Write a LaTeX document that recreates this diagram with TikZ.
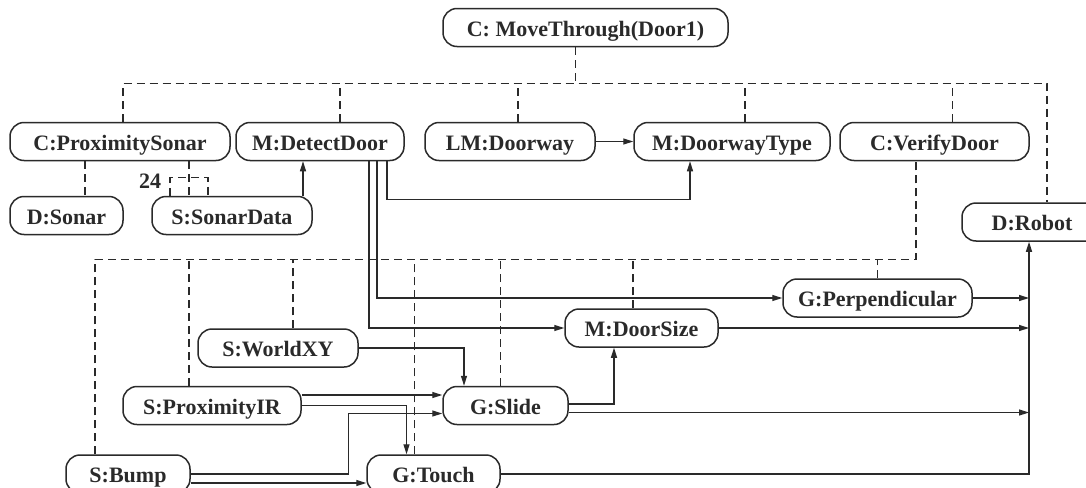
\documentclass[tikz,border=0pt]{standalone}
\usepackage{fontspec}
\setmainfont{Liberation Serif}
\usetikzlibrary{arrows.meta}
\definecolor{inkgray}{HTML}{2a2a2a}
\tikzset{
    unit/.style={
        rectangle, rounded corners=7pt,
        draw=inkgray, fill=white, line width=0.75pt,
        minimum height=19pt, inner sep=0pt,
        text height=8.5pt, text depth=-0.3pt,
        text=inkgray, font=\fontsize{11}{13}\selectfont\bfseries
    },
    bus/.style={
        draw=inkgray, line width=0.7pt, dash pattern=on 4pt off 2.5pt
    },
    arr/.style={
        -{Triangle[length=5pt,width=3pt]}, line width=0.7pt, color=inkgray
    },
    count label/.style={
        text=inkgray, font=\fontsize{11}{13}\selectfont\bfseries, inner sep=0pt
    }
}

\begin{document}
\begin{tikzpicture}[x=0.5pt, y=-0.5pt]

    \useasboundingbox (0,0) rectangle (1086,487);
    \clip (0,0) rectangle (1086,487);
    \fill[white] (0,0) rectangle (1086,487);

    % Nodes
    \node[unit, minimum width=142.5pt] (movethrough) at (585.5,27.5) {C: MoveThrough(Door1)};
    \node[unit, minimum width=110pt] (proxsonar) at (120,141.5) {C:ProximitySonar};
    \node[unit, minimum width=84pt] (detectdoor) at (320,141.5) {M:DetectDoor};
    \node[unit, minimum width=85pt] (doorway) at (510,141.5) {LM:Doorway};
    \node[unit, minimum width=98pt] (doorwaytype) at (732,141.5) {M:DoorwayType};
    \node[unit, minimum width=94.5pt] (verifydoor) at (934.5,141.5) {C:VerifyDoor};
    \node[unit, minimum width=70pt] (robot) at (1032,222) {D:Robot};
    \node[unit, minimum width=56.5pt] (sonar) at (66.5,215.5) {D:Sonar};
    \node[unit, minimum width=80pt] (sonardata) at (232,215.5) {S:SonarData};
    \node[unit, minimum width=94.5pt] (perpendicular) at (877.5,298) {G:Perpendicular};
    \node[unit, minimum width=76.5pt] (doorsize) at (641.5,328) {M:DoorSize};
    \node[unit, minimum width=80pt] (worldxy) at (278,348) {S:WorldXY};
    \node[unit, minimum width=89pt] (proxir) at (212,405.5) {S:ProximityIR};
    \node[unit, minimum width=62.5pt] (slide) at (505.5,405.5) {G:Slide};
    \node[unit, minimum width=62pt] (bump) at (128,474) {S:Bump};
    \node[unit, minimum width=66.5pt] (touch) at (433.5,474) {G:Touch};
    \node[count label] (count) at (150,181) {24};

    % Upper dashed tree
    \draw[bus] ([xshift=1.5pt]proxsonar.north) -- ++(0,-38.5) -| ([xshift=7.5pt]robot.north);
    \draw[bus] ([xshift=-5pt]movethrough.south) -- ++(0,37.5);
    \draw[bus] ([xshift=10pt]detectdoor.north) -- ++(0,-38.5);
    \draw[bus] ([xshift=4pt]doorway.north) -- ++(0,-38.5);
    \draw[bus] ([xshift=6.5pt]doorwaytype.north) -- ++(0,-38.5);
    \draw[bus] ([xshift=9pt]verifydoor.north) -- ++(0,-38.5);

    % Sonar dashed links
    \draw[bus] ([xshift=-17.5pt]proxsonar.south) -- ++(0,36);
    \draw[bus] ([xshift=34.5pt]proxsonar.south) -- ++(0,36);
    \draw[bus] ([xshift=-31pt]sonardata.north) -- ++(0,-18) -- ++(38,0) -- ++(0,18);

    % Lower dashed tree
    \draw[bus] ([xshift=-16.5pt]bump.north) -- ++(0,-195) -| ([xshift=-9.25pt]verifydoor.south);
    \draw[bus] ([xshift=-11.5pt]proxir.north) -- ++(0,-126.5);
    \draw[bus] ([xshift=7.5pt]worldxy.north) -- ++(0,-69);
    \draw[bus] ([xshift=-9.5pt]touch.north) -- ++(0,-195);
    \draw[bus] ([xshift=-2.5pt]slide.north) -- ++(0,-126.5);
    \draw[bus] ([xshift=-4.25pt]doorsize.north) -- ++(0,-49);
    \draw[bus] (perpendicular.north) -- ++(0,-19);

    % Data flow
    \coordinate (rail) at ([xshift=-1.5pt]robot.south);
    \coordinate (slidelow) at ([yshift=-3.5pt]slide.east);
    \draw[arr] ([xshift=35.5pt]sonardata.north) -- ([xshift=-8.5pt]detectdoor.south);
    \draw[arr] ([xshift=33.5pt]detectdoor.south) -- ++(0,38) -| ([xshift=-21pt]doorwaytype.south);
    \draw[arr] ([xshift=28.5pt]detectdoor.south) |- (perpendicular.west);
    \draw[arr] ([xshift=24.5pt]detectdoor.south) |- (doorsize.west);
    \draw[arr] (doorway) -- (doorwaytype);
    \draw[arr] (worldxy.east) -| ([xshift=-20.75pt]slide.north);
    \draw[arr] ([yshift=5.25pt]proxir.east) -- ([yshift=5.25pt]slide.west);
    \draw[arr] (proxir.east) -| ([xshift=-13.5pt]touch.north);
    \draw[arr] (bump.east) -- ++(158,0) |- ([yshift=-4pt]slide.west);
    \draw[arr] ([yshift=-4.5pt]bump.east) -- ([yshift=-4.5pt]touch.west);
    \draw[arr] ([yshift=0.75pt]slide.east) -| ([xshift=-13.75pt]doorsize.south);
    \draw[arr] (slidelow) -- (slidelow -| rail);
    \draw[arr] (perpendicular.east) -- (perpendicular.east -| rail);
    \draw[arr] (doorsize.east) -- (doorsize.east -| rail);
    \draw[arr] (touch.east) -| (rail);

\end{tikzpicture}
\end{document}
